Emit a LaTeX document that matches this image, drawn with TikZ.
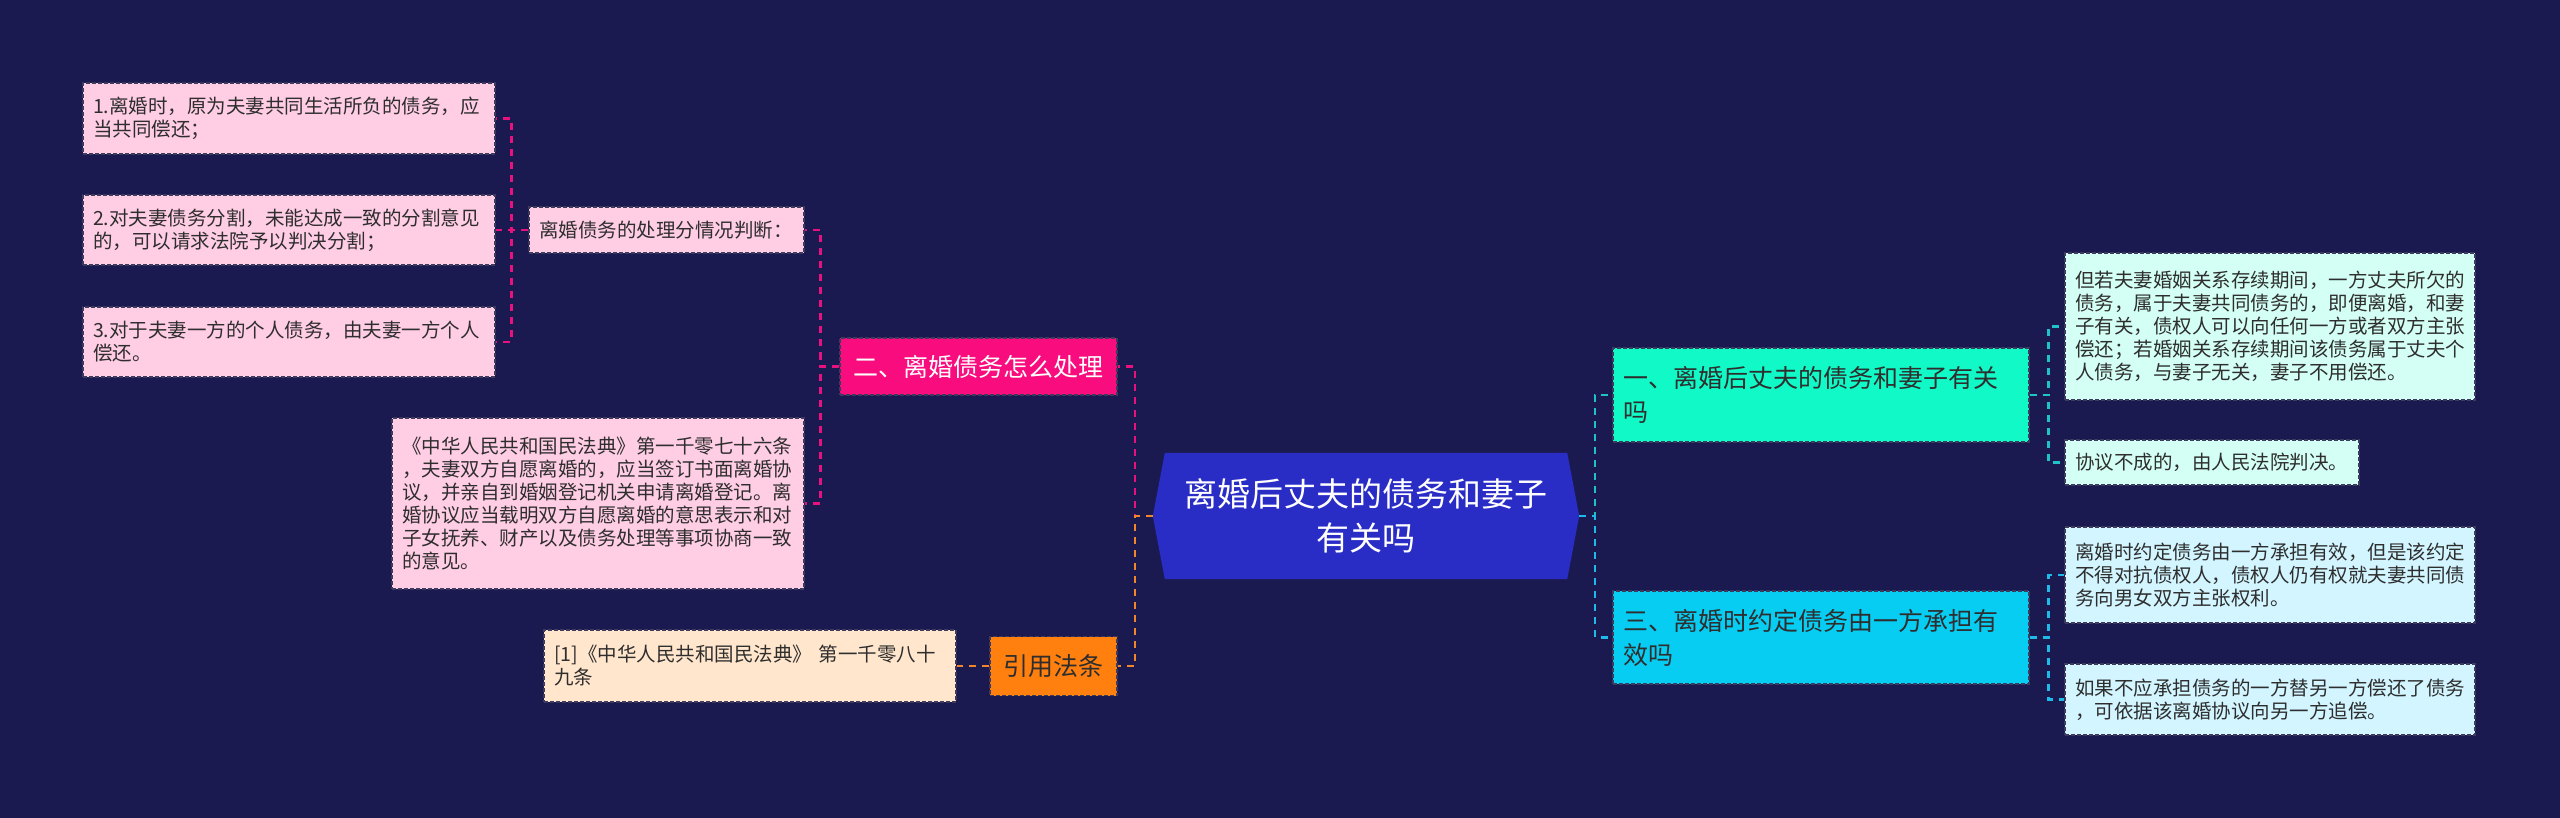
\documentclass[tikz,border=0pt]{standalone}
\usepackage{fontspec}
\setmainfont{Noto Sans CJK SC}
\usetikzlibrary{backgrounds}

\definecolor{bgnavy}{HTML}{1B1A50}
\definecolor{hexblue}{HTML}{2A2CC6}
\definecolor{rosered}{HTML}{F80C7E}
\definecolor{rosepale}{HTML}{FFCDE4}
\definecolor{citeorange}{HTML}{FF7F0F}
\definecolor{citepale}{HTML}{FFE6CC}
\definecolor{mintnode}{HTML}{10F9C6}
\definecolor{mintpale}{HTML}{D4FFF5}
\definecolor{skynode}{HTML}{08CDF2}
\definecolor{skypale}{HTML}{D2F5FF}
\definecolor{inkdark}{HTML}{2E2E2E}
\definecolor{boxline}{HTML}{3C3B5E}
\definecolor{rosewireclr}{HTML}{E8127E}
\definecolor{citewireclr}{HTML}{F2862A}
\definecolor{mintwireclr}{HTML}{1DC3C6}
\definecolor{skywireclr}{HTML}{1EBBE8}

\begin{document}
\begin{tikzpicture}[x=1pt,y=-1pt,
    card/.style={draw=boxline, dash pattern=on 4pt off 2pt, line width=1.2pt,
      inner xsep=10pt, inner ysep=0pt, text=inkdark},
    leaf/.style={card, align=left, font=\fontsize{19.5pt}{23pt}\selectfont},
    topic/.style={card, align=left, text width=396pt, font=\fontsize{25pt}{34pt}\selectfont},
    rosewire/.style={draw=rosewireclr, line width=2.5pt, dash pattern=on 7pt off 6pt},
    citewire/.style={draw=citewireclr, line width=2.5pt, dash pattern=on 7pt off 6pt},
    mintwire/.style={draw=mintwireclr, line width=2.5pt, dash pattern=on 7pt off 6pt},
    skywire/.style={draw=skywireclr, line width=2.5pt, dash pattern=on 7pt off 6pt}]
\useasboundingbox (0,0) rectangle (2560,818);

% centre
\node[inner sep=0pt, minimum width=426pt, minimum height=126pt, align=center, text=white,
  font=\fontsize{33pt}{44pt}\selectfont] (main) at (1366,516) {离婚后丈夫的债务和妻子\\有关吗};

% left side
\node[card, fill=rosered, text=white, minimum width=277pt, minimum height=57pt,
  font=\fontsize{25pt}{30pt}\selectfont] (rose) at (978.5,366.5) {二、离婚债务怎么处理};
\node[leaf, fill=rosepale, text width=255pt, minimum height=46pt] (sub) at (666.5,230) {离婚债务的处理分情况判断：};
\node[leaf, fill=rosepale, text width=392pt, minimum height=71pt] (l1) at (289,118.5) {1.离婚时，原为夫妻共同生活所负的债务，应\\当共同偿还；};
\node[leaf, fill=rosepale, text width=392pt, minimum height=70pt] (l2) at (289,230) {2.对夫妻债务分割，未能达成一致的分割意见\\的，可以请求法院予以判决分割；};
\node[leaf, fill=rosepale, text width=392pt, minimum height=70pt] (l3) at (289,342) {3.对于夫妻一方的个人债务，由夫妻一方个人\\偿还。};
\node[leaf, fill=rosepale, text width=392pt, minimum height=171pt] (law) at (598,503.5) {《中华人民共和国民法典》第一千零七十六条\\，夫妻双方自愿离婚的，应当签订书面离婚协\\议，并亲自到婚姻登记机关申请离婚登记。离\\婚协议应当载明双方自愿离婚的意思表示和对\\子女抚养、财产以及债务处理等事项协商一致\\的意见。};
\node[card, fill=citeorange, minimum width=127pt, minimum height=59pt,
  font=\fontsize{25pt}{30pt}\selectfont] (cite) at (1053.5,666) {引用法条};
\node[leaf, fill=citepale, text width=392pt, minimum height=72pt] (ref) at (750,666) {[1]《中华人民共和国民法典》 第一千零八十\\九条};

% right side
\node[topic, fill=mintnode, minimum height=94pt] (r1) at (1821,395) {一、离婚后丈夫的债务和妻子有关\\吗};
\node[topic, fill=skynode, minimum height=93pt] (r2) at (1821,637.5) {三、离婚时约定债务由一方承担有\\效吗};
\node[leaf, fill=mintpale, text width=390pt, minimum height=147pt] (r1a) at (2270,326.5) {但若夫妻婚姻关系存续期间，一方丈夫所欠的\\债务，属于夫妻共同债务的，即便离婚，和妻\\子有关，债权人可以向任何一方或者双方主张\\偿还；若婚姻关系存续期间该债务属于丈夫个\\人债务，与妻子无关，妻子不用偿还。};
\node[leaf, fill=mintpale, text width=274pt, minimum height=45pt] (r1b) at (2212,462.5) {协议不成的，由人民法院判决。};
\node[leaf, fill=skypale, text width=390pt, minimum height=96pt] (r2a) at (2270,575) {离婚时约定债务由一方承担有效，但是该约定\\不得对抗债权人，债权人仍有权就夫妻共同债\\务向男女双方主张权利。};
\node[leaf, fill=skypale, text width=390pt, minimum height=71pt] (r2b) at (2270,699.5) {如果不应承担债务的一方替另一方偿还了债务\\，可依据该离婚协议向另一方追偿。};

\begin{scope}[on background layer]
  \fill[bgnavy] (0,0) rectangle (2560,818);
  \fill[hexblue] (main.west) -- ([xshift=12pt]main.north west) -- ([xshift=-12pt]main.north east)
    -- (main.east) -- ([xshift=-12pt]main.south east) -- ([xshift=12pt]main.south west) -- cycle;
\end{scope}

% links
\draw[rosewire] (main.west) -- ++(-18,0) |- (rose.east);
\draw[citewire] (main.west) -- ++(-18,0) |- (cite.east);
\draw[rosewire] (rose.west) -- ++(-19,0) |- (sub.east);
\draw[rosewire] (rose.west) -- ++(-19,0) |- (law.east);
\foreach \n in {l1,l2,l3}
  \draw[rosewire] (sub.west) -- ++(-17,0) |- (\n.east);
\draw[citewire] (cite.west) -- (ref.east);
\draw[mintwire] (main.east) -- ++(16,0) |- (r1.west);
\draw[skywire] (main.east) -- ++(16,0) |- (r2.west);
\foreach \n in {r1a,r1b}
  \draw[mintwire] (r1.east) -- ++(19,0) |- (\n.west);
\foreach \n in {r2a,r2b}
  \draw[skywire] (r2.east) -- ++(19,0) |- (\n.west);
\end{tikzpicture}
\end{document}
